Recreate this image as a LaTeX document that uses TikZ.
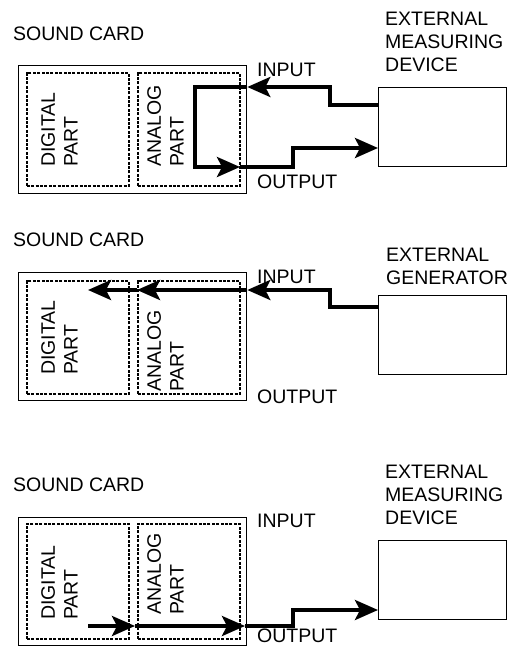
\documentclass[tikz,border=0pt]{standalone}
\usepackage{fontspec}
\setmainfont{Liberation Sans}
\usepackage{tikz}
\usetikzlibrary{arrows.meta,calc}
\tikzset{
  >={Stealth[length=23pt,width=20pt,inset=5pt]},
  scard/.style={draw=black, line width=1.3pt, anchor=north west, inner sep=0pt,
                minimum width=228pt, minimum height=128pt},
  spart/.style={draw=black, line width=1.6pt, dash pattern=on 3pt off 1.4pt,
                anchor=north west, inner sep=0pt, minimum width=102pt, minimum height=113pt},
  sdev/.style={draw=black, line width=1.3pt, anchor=north west, inner sep=0pt,
               minimum width=128pt, minimum height=79pt},
  slbl/.style={anchor=west, inner sep=0pt, text=black},
  shead/.style={anchor=north west, inner sep=0pt, align=left, text=black},
  svert/.style={rotate=90, anchor=west, inner sep=0pt, align=left, text=black},
  ssig/.style={draw=black, line width=3.8pt, miter limit=4},
}
\begin{document}
\begin{tikzpicture}[x=1pt,y=-1pt,font=\fontsize{19.5}{22.8}\selectfont]
  \useasboundingbox (0,0) rectangle (510,648);

  % first setup: loop back through the analog part
  \node[slbl] (sc1) at (13,34) {SOUND CARD};
  \node[scard] (card1) at (18,65) {};
  \node[spart] (dig1) at (26,72) {};
  \node[spart] (ana1) at (137,72) {};
  \node[svert] (dig1t) at (59.5,167) {DIGITAL\\PART};
  \node[svert] (ana1t) at (165.5,167) {ANALOG\\PART};
  \node[sdev] (ext1) at (378,87) {};
  \node[shead] (ext1t) at (385,12) {EXTERNAL\\MEASURING\\DEVICE};
  \node[slbl] (in1) at (257,70) {INPUT};
  \node[slbl] (out1) at (257,182) {OUTPUT};
  \coordinate (o1) at (240,167);
  \draw[ssig,->] ([yshift=-18pt]ext1.north west) -| (330,87) -- ([yshift=-22pt]card1.north east);
  \draw[ssig,->] ([yshift=-22pt]card1.north east) -| (195,167) -- (o1);
  \draw[ssig,->] (o1) -| (293,148) -- ([yshift=-61pt]ext1.north west);

  % second setup: generator feeds the input
  \node[slbl] (sc2) at (13,240) {SOUND CARD};
  \node[scard] (card2) at (18,272) {};
  \node[spart] (dig2) at (26,280) {};
  \node[spart] (ana2) at (137,280) {};
  \node[svert] (dig2t) at (59.5,375) {DIGITAL\\PART};
  \node[svert] (ana2t) at (165.5,392) {ANALOG\\PART};
  \node[sdev] (ext2) at (378,295) {};
  \node[shead] (ext2t) at (386,248) {EXTERNAL\\GENERATOR};
  \node[slbl] (in2) at (257,277) {INPUT};
  \node[slbl] (out2) at (257,397) {OUTPUT};
  \coordinate (a2) at (137,290);
  \draw[ssig,->] ([yshift=-12pt]ext2.north west) -| (330,290) -- ([yshift=-18pt]card2.north east);
  \draw[ssig,->] ([yshift=-18pt]card2.north east) -- (a2);
  \draw[ssig,->] (a2) -- (88,290);

  % third setup: output drives the measuring device
  \node[slbl] (sc3) at (13,485) {SOUND CARD};
  \node[scard] (card3) at (18,517) {};
  \node[spart, minimum height=115pt] (dig3) at (26,523) {};
  \node[spart, minimum height=115pt] (ana3) at (137,523) {};
  \node[svert] (dig3t) at (59.5,620) {DIGITAL\\PART};
  \node[svert] (ana3t) at (165.5,615) {ANALOG\\PART};
  \node[sdev] (ext3) at (378,540) {};
  \node[shead] (ext3t) at (385,465) {EXTERNAL\\MEASURING\\DEVICE};
  \node[slbl] (in3) at (257,521) {INPUT};
  \node[slbl] (out3) at (257,636) {OUTPUT};
  \coordinate (d3) at (88,626);
  \coordinate (a3) at (135,626);
  \coordinate (o3) at (245,626);
  \draw[ssig,->] (d3) -- (a3);
  \draw[ssig,->] (a3) -- (o3);
  \draw[ssig,->] (o3) -| (293,610) -- ([yshift=-70pt]ext3.north west);
\end{tikzpicture}
\end{document}
